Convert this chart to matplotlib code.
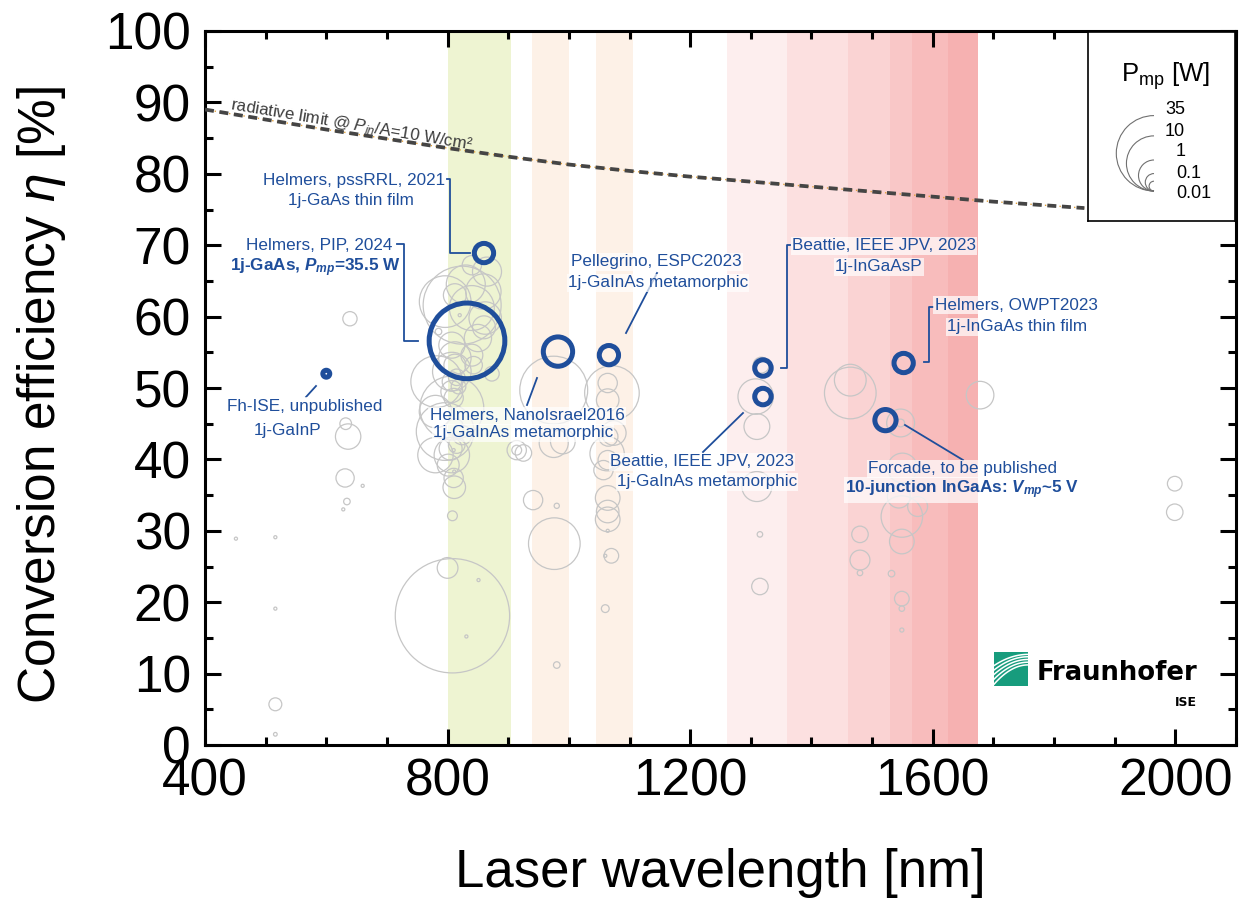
import numpy as np
import matplotlib
matplotlib.use('Agg')
import matplotlib.pyplot as plt
from matplotlib.patches import Arc
from matplotlib.ticker import MultipleLocator

plt.rcParams['font.family'] = ['Liberation Sans', 'DejaVu Sans']
plt.rcParams['mathtext.fontset'] = 'custom'
plt.rcParams['mathtext.rm'] = 'Liberation Sans'
plt.rcParams['mathtext.it'] = 'Liberation Sans:italic'
plt.rcParams['mathtext.bf'] = 'Liberation Sans:bold'
try:
    plt.rcParams['mathtext.bfit'] = 'Liberation Sans:bold:italic'
except KeyError:
    pass

# %% data
# literature results (grey): wavelength [nm], efficiency [%], Pmp [W]
lit_wl = [639, 451, 516, 516, 516, 516, 632, 636, 631, 634, 660, 628,
          808, 800, 808, 811, 851, 831, 865, 859, 840, 824, 796, 840,
          862, 785, 807, 812, 812, 807, 840, 843, 782, 807, 807, 810,
          807, 780, 796, 824, 807, 780, 801, 810, 873, 815, 818, 812,
          815, 805, 812, 850, 830, 860, 820, 810, 811,
          914, 914, 925, 941, 980, 976, 980, 975, 975, 990,
          1071, 1064, 1064, 1065, 1064, 1063, 1057, 1074, 1064, 1064, 1064,
          1070, 1060, 1064, 1060,
          1310, 1315, 1315, 1317, 1308, 1310, 1464, 1464, 1480, 1480, 1480,
          1532, 1549, 1549, 1544, 1575, 1549, 1549, 1549, 1547, 1547, 1550,
          1678, 1999, 1999]
lit_eta = [59.7, 28.9, 29.1, 19.1, 5.7, 1.5, 45.0, 43.2, 37.4, 34.1, 36.3, 33.0,
           18.1, 24.8, 32.1, 36.1, 23.1, 15.2, 66.3, 63.5, 67.2, 61.6, 62.1, 61.2,
           59.8, 57.9, 56.0, 54.2, 53.2, 52.3, 54.6, 53.2, 50.9, 49.5, 50.9, 48.6,
           47.2, 46.7, 43.9, 43.4, 40.6, 40.6, 39.2, 37.4, 52.0, 51.5, 50.2, 44.5,
           42.0, 41.5, 63.0, 57.0, 64.5, 58.5, 60.2, 41.3, 38.3,
           41.3, 41.3, 40.9, 34.3, 33.5, 28.2, 11.2, 49.7, 42.3, 42.5,
           49.3, 50.7, 48.3, 43.2, 39.9, 40.8, 38.5, 43.7, 34.6, 32.7, 31.6,
           26.5, 19.1, 30.0, 26.5,
           36.2, 29.5, 22.2, 53.2, 48.8, 44.6, 49.3, 51.1, 29.5, 25.9, 24.1,
           24.0, 28.5, 32.0, 34.8, 33.4, 20.5, 19.1, 16.1, 45.1, 45.1, 38.8,
           49.0, 36.6, 32.6]
lit_pmp = [0.045, 1e-4, 1e-4, 1e-4, 0.03, 2e-4, 0.02, 0.45, 0.12, 0.002, 1e-4, 1e-4,
           185, 0.2, 0.01, 0.28, 1e-4, 1e-4, 0.77, 1.7, 0.15, 40, 7.7, 4.4,
           1.2, 0.002, 0.5, 1.2, 0.25, 2.4, 0.25, 0.1, 7.7, 0.25, 0.15, 0.15,
           18, 1.2, 12, 0.15, 1.7, 1.7, 0.25, 0.15, 0.05, 0.08, 0.05, 0.1,
           0.08, 0.3, 0.3, 0.6, 2.5, 0.3, 1e-4, 1e-4, 1e-4,
           0.15, 0.01, 0.08, 0.15, 0.0008, 7.7, 0.002, 23, 0.77, 0.4,
           9.6, 0.15, 0.28, 0.15, 0.15, 1.5, 0.15, 0.4, 0.4, 0.28, 0.4,
           0.05, 0.004, 1e-4, 1e-4,
           0.88, 0.001, 0.08, 0.07, 1.7, 0.48, 7.7, 1.1, 0.08, 0.17, 0.001,
           0.002, 0.4, 3.2, 0.3, 0.17, 0.05, 0.001, 3e-4, 0.65, 0.004, 0.84,
           0.63, 0.05, 0.08]

# highlighted results (blue)
hl_wl = [860, 832, 600, 982, 1066, 1320, 1320, 1552, 1522]
hl_eta = [68.9, 56.6, 52.0, 55.1, 54.6, 52.8, 48.8, 53.5, 45.5]
hl_pmp = [0.15, 35.5, 0.0025, 0.8, 0.15, 0.08, 0.08, 0.15, 0.22]

# radiative limit @ Pin/A = 10 W/cm2
rad_wl = [400, 500, 600, 700, 800, 900, 1000, 1100, 1200, 1300, 1400,
          1500, 1600, 1700, 1800, 1850]
rad_eta = [89.0, 87.6, 86.2, 84.9, 83.6, 82.4, 81.3, 80.4, 79.6, 78.9, 78.2,
           77.5, 76.8, 76.1, 75.5, 75.2]

# laser wavelength bands
band_lo = [800, 940, 1045, 1260, 1360, 1460, 1530, 1565, 1625]
band_hi = [905, 1000, 1105, 1360, 1460, 1530, 1565, 1625, 1675]
band_col = ['#eef4d2', '#fdf1e7', '#fdf1e7', '#fdeeee', '#fce0e0',
            '#fad3d3', '#f9c7c7', '#f8bcbc', '#f6b1b1']

leg_pmp = [35, 10, 1, 0.1, 0.01]
leg_lab = ['35', '10', '1', '0.1', '0.01']

BLUE = '#1f4e9b'
GREY = '#c6c6c6'
W, H = 1239, 902
K = 15.5  # marker radius in px for 1 W (radius ~ P^0.25)


def size_pt2(p):
    r_px = K * np.asarray(p, dtype=float) ** 0.25
    return (2 * r_px * 0.72) ** 2


# %% figure
fig = plt.figure(figsize=(W / 100, H / 100), dpi=100)
ax = fig.add_axes([205 / W, 1 - 745 / H, 1031 / W, 714 / H])
ax.set_xlim(400, 2100)
ax.set_ylim(0, 100)


def px(x, y):
    # reference picture pixel -> data coords (layout helper)
    return 400 + (x - 205) / 1031 * 1700, (745 - y) / 714 * 100


for lo, hi, c in zip(band_lo, band_hi, band_col):
    ax.axvspan(lo, hi, color=c, lw=0, zorder=0)

ax.scatter(lit_wl, lit_eta, s=size_pt2(lit_pmp), facecolors='none',
           edgecolors=GREY, linewidths=0.9, zorder=3)

ax.plot(rad_wl, rad_eta, color='#e3a13a', lw=1.0, ls=(0, (1, 2.5)), zorder=4)
ax.plot(rad_wl, rad_eta, color='#454545', lw=2.7, ls=(0, (2.4, 1.5)), zorder=4)
tx, ty = px(352, 125)
ax.text(tx, ty, r'radiative limit @ $P_{in}$/A=10 W/cm²', fontsize=12.2,
        color='#3c3c3c', rotation=-9.5, rotation_mode='anchor',
        ha='center', va='center', zorder=6)

ax.scatter(hl_wl, hl_eta, s=size_pt2(hl_pmp), facecolors='none',
           edgecolors=BLUE, linewidths=3.6, zorder=7)

# annotations: (text, bold, centre px)
annots = [
    [('Helmers, pssRRL, 2021', False, (354, 180)), ('1j-GaAs thin film', False, (351, 201))],
    [('Helmers, PIP, 2024', False, (319, 245)),
     (r'1j-GaAs, $\mathbfit{P}_{\mathbfit{mp}}$=35.5 W', True, (315, 268))],
    [('Fh-ISE, unpublished', False, (305, 406)), ('1j-GaInP', False, (288, 431))],
    [('Helmers, NanoIsrael2016', False, (527, 416)), ('1j-GaInAs metamorphic', False, (523, 433))],
    [('Pellegrino, ESPC2023', False, (656, 262)), ('1j-GaInAs metamorphic', False, (658, 283))],
    [('Beattie, IEEE JPV, 2023', False, (884, 246)), ('1j-InGaAsP', False, (879, 267))],
    [('Beattie, IEEE JPV, 2023', False, (702, 462)), ('1j-GaInAs metamorphic', False, (707, 482))],
    [('Helmers, OWPT2023', False, (1016, 305)), ('1j-InGaAs thin film', False, (1017, 327))],
    [('Forcade, to be published', False, (963, 469)),
     (r'10-junction InGaAs: $\mathbfit{V}_{\mathbfit{mp}}$~5 V', True, (962, 490))],
]
connectors = [
    [(447, 179), (449.5, 179), (449.5, 253), (470, 253)],
    [(397, 244), (404, 244), (404, 341), (418, 341)],
    [(316, 386), (306, 397)],
    [(537, 378), (527, 405)],
    [(657, 273), (626, 333)],
    [(790, 245), (787, 245), (787, 368), (781, 368)],
    [(743, 413), (703, 452)],
    [(933, 307), (929, 307), (929, 362), (924, 362)],
    [(905, 425), (963, 460)],
]
for path in connectors:
    pts = [px(*p) for p in path]
    ax.plot([p[0] for p in pts], [p[1] for p in pts], color=BLUE, lw=1.3, zorder=5)

for lines in annots:
    for txt, bold, (x, y) in lines:
        dx, dy = px(x, y)
        ax.text(dx, dy, txt, fontsize=12.3, color=BLUE, ha='center', va='center',
                fontweight='bold' if bold else 'normal', zorder=6,
                bbox=dict(boxstyle='square,pad=0.08', fc='white', ec='none', alpha=0.7))

# axes styling
ax.xaxis.set_major_locator(MultipleLocator(400))
ax.xaxis.set_minor_locator(MultipleLocator(100))
ax.yaxis.set_major_locator(MultipleLocator(10))
ax.yaxis.set_minor_locator(MultipleLocator(5))
ax.tick_params(which='both', direction='in', top=True, right=True, width=2.2,
               labelsize=37)
ax.tick_params(which='major', length=11.5)
ax.tick_params(which='minor', length=5.8)
ax.tick_params(axis='x', pad=9)
ax.tick_params(axis='y', pad=10)
for s in ax.spines.values():
    s.set_linewidth(2.2)
ax.set_xlabel('Laser wavelength [nm]', fontsize=38)
ax.set_ylabel(r'Conversion efficiency $\eta$ [%]', fontsize=37)
ax.xaxis.set_label_coords(0.5, -0.144)
ax.yaxis.set_label_coords(-0.133, 0.49)

# size legend
lx0, ly0, lx1, ly1 = 1088, 32, 1235, 221
lax = fig.add_axes([lx0 / W, 1 - ly1 / H, (lx1 - lx0) / W, (ly1 - ly0) / H])
lax.set_xlim(0, lx1 - lx0)
lax.set_ylim(0, ly1 - ly0)
lax.set_xticks([])
lax.set_yticks([])
for s in lax.spines.values():
    s.set_linewidth(1.2)
bx, by = 1154 - lx0, ly1 - 191
for p in leg_pmp:
    r = K * p ** 0.25
    lax.add_patch(Arc((bx, by + r), 2 * r, 2 * r, theta1=90, theta2=270,
                      color='#707070', lw=0.8))
for i, lab in enumerate(leg_lab):
    xl = 1176 - 11 * (len(lab.split('.')[0]) - 1)
    lax.text(xl - lx0, ly1 - (110 + 21 * i), lab, fontsize=13, ha='left', va='center')
lax.text(1166 - lx0, ly1 - 76, r'P$_{\mathregular{mp}}$ [W]', fontsize=18.5,
         ha='center', va='center')

# Fraunhofer logo
gax = fig.add_axes([994 / W, 1 - 686 / H, 34 / W, 34 / H])
gax.set_facecolor('#179c7d')
gax.set_xlim(0, 1)
gax.set_ylim(0, 1)
gax.set_xticks([])
gax.set_yticks([])
for s in gax.spines.values():
    s.set_visible(False)
t = np.linspace(0, 1, 40)
for y0, y1 in [(0.05, 0.62), (0.2, 0.7), (0.34, 0.78), (0.47, 0.86), (0.6, 0.93)]:
    gax.plot(t, y0 + (y1 - y0) * (1 - (1 - t) ** 2), color='white', lw=1.1)
fig.text(1197 / W, 1 - 673 / H, 'Fraunhofer', fontsize=18.6, fontweight='bold',
         family='DejaVu Sans', ha='right', va='center')
fig.text(1197 / W, 1 - 703 / H, 'ISE', fontsize=9, fontweight='bold',
         family='DejaVu Sans', ha='right', va='center')

fig.savefig('out.png', dpi=100)
